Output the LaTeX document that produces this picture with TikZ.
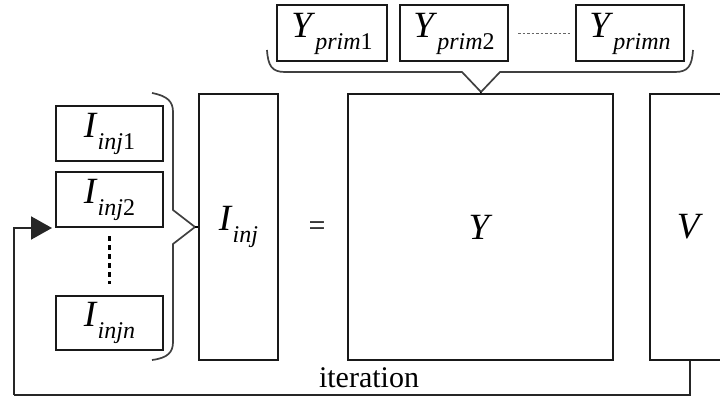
\documentclass[tikz,border=0pt]{standalone}
\usepackage{fontspec}
\setmainfont{Liberation Serif}
\usetikzlibrary{arrows.meta,calc}
\newcommand{\mylbl}[2]{\fontsize{37}{40}\selectfont\textit{#1}\raisebox{-12pt}{\fontsize{24}{26}\selectfont\textit{#2}}}
\tikzset{
  smallbox/.style={draw=black!90, line width=2pt, minimum width=107pt, minimum height=55pt, inner sep=0pt},
  bigbox/.style={draw=black!90, line width=2pt, minimum height=266pt, inner sep=0pt},
  bracepath/.style={draw=black!75, line width=1.7pt, line join=miter},
  looppath/.style={draw=black!85, line width=2pt},
}
\begin{document}
\begin{tikzpicture}[x=1pt,y=-1pt]
\useasboundingbox (0,0) rectangle (720,398);
\clip (0,0) rectangle (720,398);
% top row
\node[smallbox, minimum width=110pt, minimum height=56pt] (yp1) at (332,33.5) {\mylbl{Y}{prim}\raisebox{-12pt}{\fontsize{24}{26}\selectfont 1}};
\node[smallbox, minimum width=108pt, minimum height=56pt] (yp2) at (454,33.5) {\mylbl{Y}{prim}\raisebox{-12pt}{\fontsize{24}{26}\selectfont 2}};
\node[smallbox, minimum width=108pt, minimum height=56pt] (ypn) at (630,33.5) {\mylbl{Y}{primn}};
\draw[black!60, line width=1.2pt, dash pattern=on 2.5pt off 2pt] ($(yp2.east)+(9,0)$) -- ($(ypn.west)+(-4,0)$);
% left column
\node[smallbox] (ii1) at (109.5,133.5) {\mylbl{I}{inj}\raisebox{-12pt}{\fontsize{24}{26}\selectfont 1}};
\node[smallbox] (ii2) at (109.5,199.5) {\mylbl{I}{inj}\raisebox{-12pt}{\fontsize{24}{26}\selectfont 2}};
\node[smallbox, minimum height=54pt] (iin) at (109.5,323) {\mylbl{I}{injn}};
\draw[black, line width=2.5pt, dash pattern=on 5pt off 4pt] ($(ii2.south)+(0,8)$) -- ($(iin.north)+(0,-11)$);
% big boxes
\node[bigbox, minimum width=79pt] (iinj) at (238.5,227) {\mylbl{I}{inj}};
\node[font=\fontsize{30}{32}\selectfont] (eq) at (317,229) {=};
\node[bigbox, minimum width=265pt] (yb) at (480.5,227) {\fontsize{37}{40}\selectfont\textit{Y}};
\node[bigbox, minimum width=80pt] (vb) at (690,227) {\fontsize{37}{40}\selectfont\textit{V}};
% braces
\path[bracepath] (267,50) .. controls (268,66) and (272,72) .. (285,72) -- (462,72) -- (481,92) -- (500,72) -- (675,72) .. controls (688,72) and (692,66) .. (693,50);
\draw[black, line width=1.5pt] (481,92) -- (yb.north);
\path[bracepath] (152,93) .. controls (168,96) and (173,102) .. (173,112) -- (173,210) -- (195,227) -- (173,244) -- (173,342) .. controls (173,352) and (168,358) .. (152,360);
\draw[black, line width=1.8pt] (195,227) -- (iinj.west);
% iteration loop
\coordinate (loopc) at (14,395);
\draw[looppath] (vb.south) |- (loopc);
\draw[looppath, -{Triangle[length=21pt,width=23pt]}, shorten >=3pt] (loopc) |- (ii2.south west);
\node[anchor=base, font=\fontsize{30}{32}\selectfont] (itl) at (369,387) {iteration};
\end{tikzpicture}
\end{document}
